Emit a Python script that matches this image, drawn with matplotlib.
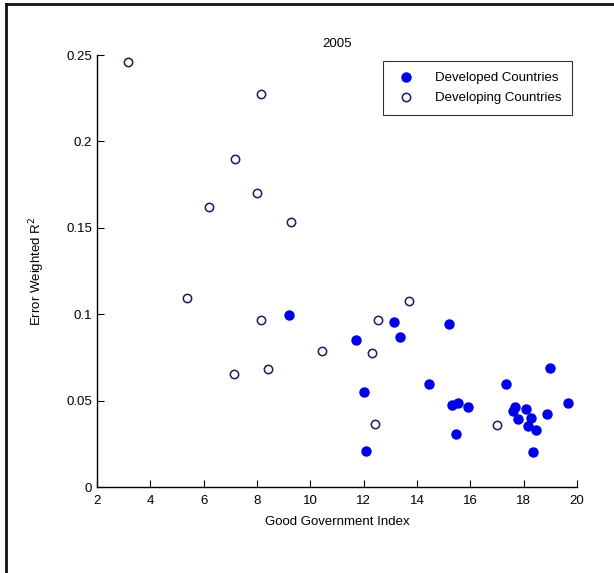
import matplotlib
matplotlib.use("Agg")
import matplotlib.pyplot as plt
from matplotlib.lines import Line2D

plt.rcParams['font.family'] = ['Liberation Sans', 'DejaVu Sans']

# Developed countries (filled markers)
dev_x = [9.19, 11.71, 13.12, 13.36, 12.00, 12.09, 15.21, 14.43, 15.30, 15.55,
         15.89, 15.46, 17.34, 19.00, 17.59, 17.67, 18.09, 17.80, 18.27, 18.17,
         18.46, 18.88, 19.67, 18.34]
dev_y = [0.0994, 0.0849, 0.0957, 0.0870, 0.0548, 0.0210, 0.0943, 0.0594, 0.0475, 0.0484,
         0.0461, 0.0307, 0.0594, 0.0687, 0.0442, 0.0465, 0.0450, 0.0393, 0.0397, 0.0353,
         0.0330, 0.0424, 0.0484, 0.0204]

# Developing countries (open markers)
devg_x = [3.15, 8.15, 7.19, 7.99, 6.19, 9.27, 5.36, 8.16, 13.70, 12.54,
          10.45, 12.32, 7.15, 8.40, 12.42, 16.99]
devg_y = [0.2458, 0.2274, 0.1898, 0.1703, 0.1619, 0.1535, 0.1092, 0.0966, 0.1076, 0.0965,
          0.0785, 0.0777, 0.0652, 0.0681, 0.0365, 0.0359]

xticks = [2, 4, 6, 8, 10, 12, 14, 16, 18, 20]
yticks = [0, 0.05, 0.1, 0.15, 0.2, 0.25]
ytick_labels = ['0', '0.05', '0.1', '0.15', '0.2', '0.25']

fig = plt.figure(figsize=(6.14, 5.73), dpi=100)
ax = fig.add_axes([0.158, 0.150, 0.782, 0.754])

ax.plot(dev_x, dev_y, 'o', color='#0000e6', markersize=6.5, linestyle='none',
        label='Developed Countries')
ax.plot(devg_x, devg_y, 'o', markerfacecolor='none', markeredgecolor='#1c1c5a',
        markeredgewidth=1.1, markersize=6, linestyle='none', label='Developing Countries')

ax.set_xlim(2, 20)
ax.set_ylim(0, 0.25)
ax.set_xticks(xticks)
ax.set_yticks(yticks)
ax.set_yticklabels(ytick_labels)
ax.tick_params(direction='in', length=5, width=0.8, labelsize=9.5, colors='black')
ax.tick_params(axis='x', pad=6)
ax.spines['top'].set_visible(False)
ax.spines['right'].set_visible(False)
for s in ['left', 'bottom']:
    ax.spines[s].set_linewidth(1.0)

ax.set_title('2005', fontsize=9.5, pad=6)
ax.set_xlabel('Good Government Index', fontsize=9.5, labelpad=6)
ax.set_ylabel('Error Weighted R$^2$', fontsize=9.5, labelpad=14)

leg = ax.legend(loc='upper right', bbox_to_anchor=(0.99, 0.985), fontsize=9.5,
                fancybox=False, frameon=True, borderpad=0.8, handletextpad=1.2,
                labelspacing=0.6, borderaxespad=0)
leg.get_frame().set_edgecolor('black')
leg.get_frame().set_linewidth(0.8)

# outer frame (left and top edges only)
fig.add_artist(Line2D([0.009, 0.009], [0.0, 0.993], color='#111111', lw=2,
                      transform=fig.transFigure))
fig.add_artist(Line2D([0.009, 1.0], [0.993, 0.993], color='#111111', lw=2,
                      transform=fig.transFigure))

plt.savefig('out.png', dpi=100)
